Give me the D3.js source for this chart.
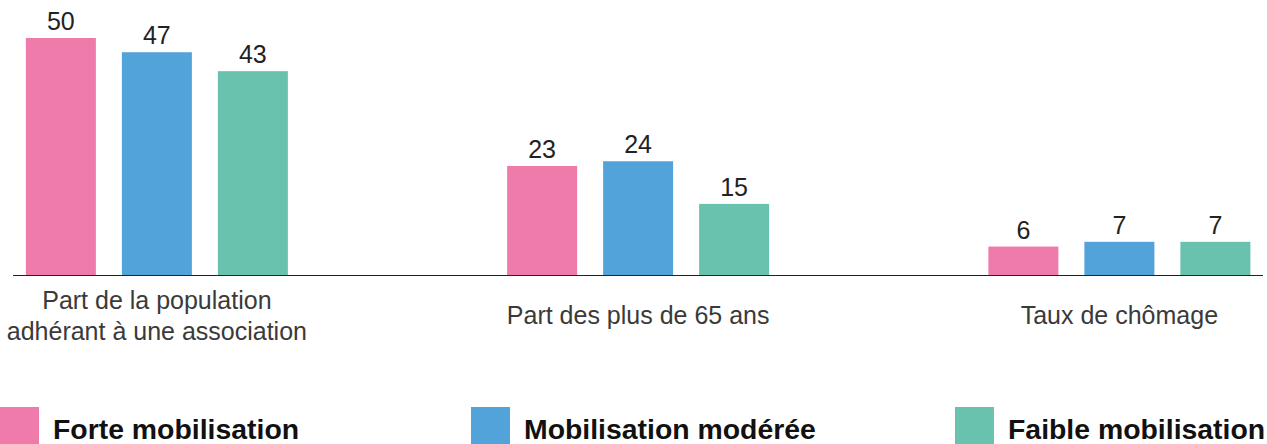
<!DOCTYPE html>
<html>
<head>
<meta charset="utf-8">
<script src="https://cdn.jsdelivr.net/npm/d3@7"></script>
<style>
  html, body { margin: 0; padding: 0; background: #fff; }
  svg { display: block; }
</style>
</head>
<body>
<svg id="chart" width="1267" height="444"></svg>
<script>
// ---- data ----
const categories = [
  ["Part de la population", "adhérant à une association"],
  ["Part des plus de 65 ans"],
  ["Taux de chômage"]
];
const seriesNames = ["Forte mobilisation", "Mobilisation modérée", "Faible mobilisation"];
const forte   = [50, 23, 6];
const moderee = [47, 24, 7];
const faible  = [43, 15, 7];
const colors  = ["#EE7BAA", "#53A3DB", "#69C2AE"];

const seriesValues = [forte, moderee, faible];
const catKeys = categories.map(c => c.join(" "));

// ---- layout ----
const svg = d3.select("#chart");
const baseY = 275;

const x0 = d3.scaleBand().domain(catKeys).range([-83.75, 1360]).padding(0);
const x1 = d3.scaleBand().domain(seriesNames).range([-131, 131]).paddingInner(26 / 96).paddingOuter(0);
const y = d3.scaleLinear().domain([0, 50]).range([baseY, 38]);

const groupCenter = k => x0(k) + x0.bandwidth() / 2;

// axis baseline
svg.append("line")
  .attr("x1", 13).attr("x2", 1263)
  .attr("y1", baseY + 0.5).attr("y2", baseY + 0.5)
  .attr("stroke", "#222").attr("stroke-width", 1.2);

// bars
const groups = svg.selectAll("g.grp")
  .data(catKeys)
  .enter().append("g")
  .attr("class", "grp")
  .attr("transform", k => `translate(${groupCenter(k)},0)`);

groups.each(function(k, ci) {
  const g = d3.select(this);
  const data = seriesNames.map((s, si) => ({ s, si, v: seriesValues[si][ci] }));
  g.selectAll("rect").data(data).enter().append("rect")
    .attr("x", d => x1(d.s))
    .attr("width", x1.bandwidth())
    .attr("y", d => y(d.v))
    .attr("height", d => y(0) - y(d.v))
    .attr("fill", d => colors[d.si]);
  g.selectAll("text.val").data(data).enter().append("text")
    .attr("class", "val")
    .attr("x", d => x1(d.s) + x1.bandwidth() / 2)
    .attr("y", d => y(d.v) - 8)
    .attr("text-anchor", "middle")
    .attr("font-family", "'Liberation Sans', Arial, Helvetica, sans-serif")
    .attr("font-size", 25)
    .attr("fill", "#222")
    .text(d => d.v);
});

// category labels (vertically centred block)
const lineH = 31;
const labelCenter = 324;
groups.each(function(k, ci) {
  const lines = categories[ci];
  const t = d3.select(this).append("text")
    .attr("text-anchor", "middle")
    .attr("font-family", "'Liberation Sans', Arial, Helvetica, sans-serif")
    .attr("font-size", 25)
    .attr("fill", "#3a3a3a");
  lines.forEach((ln, li) => {
    t.append("tspan")
      .attr("x", 0)
      .attr("y", labelCenter + (li - (lines.length - 1) / 2) * lineH)
      .text(ln);
  });
});

// legend
const legendX = d3.scaleOrdinal().domain(seriesNames).range([0, 471, 955]);
const leg = svg.selectAll("g.leg").data(seriesNames).enter().append("g")
  .attr("class", "leg")
  .attr("transform", d => `translate(${legendX(d)},407)`);
leg.append("rect")
  .attr("width", 39).attr("height", 39)
  .attr("fill", (d, i) => colors[i]);
leg.append("text")
  .attr("x", 53).attr("y", 32)
  .attr("font-family", "'Liberation Sans', Arial, Helvetica, sans-serif")
  .attr("font-weight", "bold")
  .attr("font-size", 28.4)
  .attr("fill", "#111")
  .text(d => d);
</script>
</body>
</html>
